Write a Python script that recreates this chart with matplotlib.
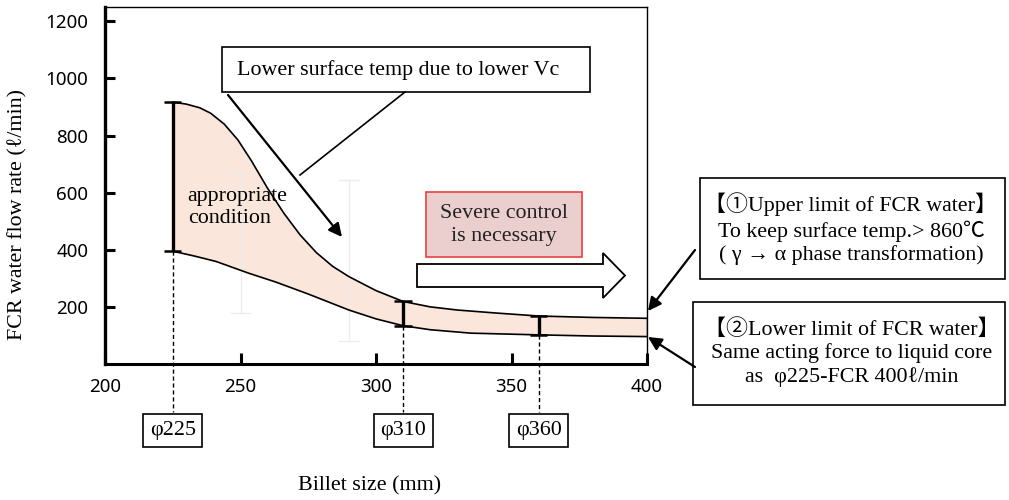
import matplotlib
matplotlib.use("Agg")
import matplotlib.pyplot as plt
import numpy as np
from matplotlib.patches import Polygon
from matplotlib.transforms import blended_transform_factory

# upper limit curve (①) and lower limit curve (②)
upper_x = [225, 230, 235, 239, 244, 249, 254, 260, 266, 272, 278, 284, 290, 300, 310, 320, 330, 345, 360, 380, 400]
upper_y = [917, 910, 897, 878, 840, 785, 712, 615, 528, 452, 390, 342, 306, 257, 219, 200, 189, 178, 168, 163, 160]
lower_x = [225, 233, 241, 253, 263, 275, 290, 300, 310, 320, 335, 360, 380, 400]
lower_y = [395, 378, 359, 318, 287, 245, 189, 158, 134, 120, 108, 102, 98, 96]

# billet sizes with their ranges
sizes = [225, 310, 360]
size_lo = [395, 134, 102]
size_hi = [917, 219, 168]
size_labels = ["φ225", "φ310", "φ360"]

# faint background bars
faint_x = [250, 290]
faint_lo = [180, 80]
faint_hi = [663, 645]

xticks = [200, 250, 300, 350, 400]
yticks = [200, 400, 600, 800, 1000, 1200]

SERIF = ["Liberation Serif", "Noto Sans CJK JP", "DejaVu Sans"]
FS = 15.8

fig = plt.figure(figsize=(10.09, 5), dpi=100)
ax = fig.add_axes([105 / 1009, 136 / 500, 542 / 1009, 357 / 500])
ax.set_xlim(200, 400)
ax.set_ylim(0, 1250)

# band between the two limits
lo_on_up = np.interp(upper_x, lower_x, lower_y)
ax.fill_between(upper_x, lo_on_up, upper_y, color="#fae6da", lw=0, zorder=1)
ax.plot(upper_x, upper_y, color="black", lw=1.2, zorder=3)
ax.plot(lower_x, lower_y, color="black", lw=1.2, zorder=3)
ax.vlines(400, lower_y[-1], upper_y[-1], color="black", lw=1.0, zorder=3)

ax.vlines(faint_x, faint_lo, faint_hi, color="#ececec", lw=1.0, zorder=2)
for fx, a, b in zip(faint_x, faint_lo, faint_hi):
    ax.hlines([a, b], fx - 4, fx + 4, color="#ececec", lw=1.0, zorder=2)

ax.vlines(sizes, size_lo, size_hi, color="black", lw=2.4, zorder=4)
for sx, a, b in zip(sizes, size_lo, size_hi):
    ax.hlines([a, b], sx - 3.2, sx + 3.2, color="black", lw=1.8, zorder=4)

# dashed guide lines down to labels
for sx, a in zip(sizes, size_lo):
    ax.plot([sx, sx], [a, -168], color="black", lw=1.0, ls=(0, (3, 2)), clip_on=False, zorder=4)

ax.set_xticks(xticks)
ax.set_yticks(yticks)
ax.tick_params(direction="in", length=8, width=2.2, labelsize=13.5, pad=10)
ax.tick_params(axis="y", length=7, pad=12)
for lab in ax.get_xticklabels() + ax.get_yticklabels():
    lab.set_family("Noto Sans")
ax.spines["left"].set_linewidth(2.4)
ax.spines["bottom"].set_linewidth(2.2)
ax.spines["top"].set_linewidth(1.0)
ax.spines["right"].set_linewidth(1.0)

ax.text(230.5, 548, "appropriate\ncondition", family=SERIF, fontsize=FS, va="center",
        ha="left", linespacing=1.2, zorder=5)

# overlay in figure pixels for the annotation layout
ov = fig.add_axes([0, 0, 1, 1])
ov.set_xlim(0, 1009)
ov.set_ylim(500, 0)
ov.axis("off")


def rect(x0, y0, x1, y1, fc="white", ec="black", lw=1.2):
    ov.add_patch(Polygon([(x0, y0), (x1, y0), (x1, y1), (x0, y1)], closed=True,
                         fc=fc, ec=ec, lw=lw))


arrow = dict(arrowstyle="-|>", mutation_scale=20, lw=1.6, color="black", shrinkA=0, shrinkB=0)

# top callout
rect(222, 47, 590, 92)
ov.text(237, 70, "Lower surface temp due to lower Vc", family=SERIF, fontsize=FS,
        va="center", ha="left")
ov.annotate("", xy=(342, 237), xytext=(228, 95), arrowprops=arrow)
ov.plot([405, 300], [92, 175], color="black", lw=1.2)

# severe control box and block arrow
rect(426, 192, 582, 257, fc="#ebcfcf", ec="#e8423f", lw=1.2)
ov.text(504, 225, "Severe control\nis necessary", family=SERIF, fontsize=FS,
        va="center", ha="center", linespacing=1.25, color="#222222")
ov.add_patch(Polygon([(417, 264), (603, 264), (603, 253), (625, 275.5), (603, 298),
                      (603, 287), (417, 287)], closed=True, fc="white", ec="black", lw=1.3))

# right hand notes
rect(700, 178, 1005, 279)
ov.text(851, 229, "【①Upper limit of FCR water】\nTo keep surface temp.> 860℃\n( γ → α phase transformation)",
        family=SERIF, fontsize=FS, va="center", ha="center", linespacing=1.25)
rect(693, 302, 1005, 405)
ov.text(852, 353, "【②Lower limit of FCR water】\nSame acting force to liquid core\nas  φ225-FCR 400ℓ/min",
        family=SERIF, fontsize=FS, va="center", ha="center", linespacing=1.25)
ov.annotate("", xy=(648, 311), xytext=(695, 250), arrowprops=arrow)
ov.annotate("", xy=(648, 337), xytext=(695, 367), arrowprops=arrow)

# size labels below the axis
tr = blended_transform_factory(ax.transData, ov.transData)
for sx, lab in zip(sizes, size_labels):
    fig.text(sx, 430.5, lab, transform=tr, family=SERIF, fontsize=FS, ha="center",
             va="center", bbox=dict(boxstyle="square,pad=0.3", fc="white", ec="black", lw=1.2))

ov.text(370, 486, "Billet size (mm)", family=SERIF, fontsize=FS, ha="center", va="center")
ov.text(18, 215, "FCR water flow rate (ℓ/min)", family=SERIF, fontsize=FS, ha="center",
        va="center", rotation=90)

fig.savefig("out.png", dpi=100)
